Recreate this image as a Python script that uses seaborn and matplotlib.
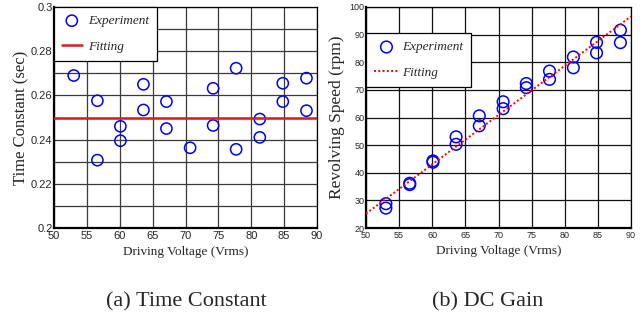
import matplotlib
matplotlib.use("Agg")
import matplotlib.pyplot as plt
from matplotlib import font_manager
from matplotlib.ticker import MultipleLocator, FixedFormatter, FixedLocator
import seaborn as sns

# ---- data ----
volt_a = [53.0, 56.6, 56.6, 60.1, 60.1, 63.6, 63.6, 67.1, 67.1, 70.7,
          74.2, 74.2, 77.7, 77.7, 81.3, 81.3, 84.8, 84.8, 88.4, 88.4]
tau = [0.269, 0.2576, 0.2307, 0.246, 0.2395, 0.265, 0.2534, 0.2572, 0.245, 0.2363,
       0.2632, 0.2464, 0.2723, 0.2356, 0.2493, 0.241, 0.2655, 0.2572, 0.2678, 0.2531]
fit_a_x = [50, 90]
fit_a_y = [0.25, 0.25]

volt_b = [53.0, 53.0, 56.6, 56.6, 60.1, 60.1, 63.6, 63.6, 67.1, 67.1, 70.7, 70.7,
          74.2, 74.2, 77.7, 77.7, 81.3, 81.3, 84.8, 84.8, 88.4, 88.4]
speed = [28.8, 27.2, 36.2, 35.7, 44.3, 43.8, 53.0, 50.3, 60.6, 57.0, 65.7, 63.2,
         72.3, 70.8, 76.8, 73.8, 81.9, 78.0, 87.2, 83.4, 91.6, 87.1]
fit_b_x = [50, 90]
fit_b_y = [25.2, 96.6]

yticks_a = [0.2, 0.22, 0.24, 0.26, 0.28, 0.3]
ytick_labels_a = ["0.2", "0.22", "0.24", "0.26", "0.28", "0.3"]
captions = ["(a) Time Constant", "(b) DC Gain"]

sns.set_style("white")
names = {f.name for f in font_manager.fontManager.ttflist}
serif = "Liberation Serif" if "Liberation Serif" in names else "DejaVu Serif"
narrow = "Liberation Sans Narrow" if "Liberation Sans Narrow" in names else "Liberation Sans"
plt.rcParams["font.family"] = [serif, "DejaVu Serif"]

fig = plt.figure(figsize=(6.43, 3.22), dpi=100)
ax1 = fig.add_axes([54/643, 1-228/322, 263/643, 221/322])
ax2 = fig.add_axes([366/643, 1-228/322, 265/643, 221/322])

# ---- left panel ----
sns.scatterplot(x=volt_a, y=tau, ax=ax1, marker="o", s=65,
                facecolor="none", edgecolor="blue", linewidth=1.1,
                label="Experiment", legend=False, zorder=3)
sns.lineplot(x=fit_a_x, y=fit_a_y, ax=ax1, color="#d42020", lw=1.8,
             label="Fitting", legend=False, zorder=4)
ax1.set_xlim(50, 90)
ax1.set_ylim(0.2, 0.3)
ax1.xaxis.set_major_locator(MultipleLocator(5))
ax1.yaxis.set_major_locator(FixedLocator(yticks_a))
ax1.yaxis.set_major_formatter(FixedFormatter(ytick_labels_a))
ax1.yaxis.set_minor_locator(MultipleLocator(0.01))
ax1.grid(True, which="both", color="#3a3a3a", lw=0.9)
ax1.set_axisbelow(True)
ax1.tick_params(axis="both", which="both", length=0, labelsize=8,
                labelfontfamily=narrow)
ax1.tick_params(axis="x", pad=2.5)
ax1.tick_params(axis="y", pad=1.0)
ax1.set_xlabel("Driving Voltage (Vrms)", fontsize=9.5, labelpad=3)
ax1.set_ylabel("Time Constant (sec)", fontsize=12, labelpad=1)
leg1 = ax1.legend(loc="upper left", bbox_to_anchor=(0, 1), borderaxespad=0,
                  fancybox=False, framealpha=1, edgecolor="black",
                  prop={"family": serif, "style": "italic", "size": 9.5},
                  handlelength=1.5, handletextpad=0.5, labelspacing=1.0,
                  borderpad=0.6)
leg1.get_frame().set_linewidth(0.9)

# ---- right panel ----
sns.scatterplot(x=volt_b, y=speed, ax=ax2, marker="o", s=70,
                facecolor="none", edgecolor="blue", linewidth=1.1,
                label="Experiment", legend=False, zorder=3)
sns.lineplot(x=fit_b_x, y=fit_b_y, ax=ax2, color="red", lw=1.4,
             linestyle=(0, (1, 1.2)), label="Fitting", legend=False, zorder=4)
ax2.set_xlim(50, 90)
ax2.set_ylim(20, 100)
ax2.xaxis.set_major_locator(MultipleLocator(5))
ax2.yaxis.set_major_locator(MultipleLocator(10))
ax2.grid(True, which="major", color="#111111", lw=0.9)
ax2.set_axisbelow(True)
ax2.tick_params(axis="both", which="both", length=0, labelsize=6.5,
                labelfontfamily=narrow)
ax2.tick_params(axis="x", pad=2.5)
ax2.tick_params(axis="y", pad=1.0)
ax2.set_xlabel("Driving Voltage (Vrms)", fontsize=9.5, labelpad=3)
ax2.set_ylabel("Revolving Speed (rpm)", fontsize=12.5, labelpad=3)
leg2 = ax2.legend(loc="upper left", bbox_to_anchor=(0, 0.881), borderaxespad=0,
                  fancybox=False, framealpha=1, edgecolor="black",
                  prop={"family": serif, "style": "italic", "size": 9.5},
                  handlelength=1.9, handletextpad=0.25, labelspacing=1.0,
                  borderpad=0.6)
leg2.get_frame().set_linewidth(0.9)

for ax in (ax1, ax2):
    for sp in ax.spines.values():
        sp.set_color("black")
        sp.set_linewidth(0.9)
    ax.spines["bottom"].set_linewidth(1.6)
    ax.spines["left"].set_linewidth(1.6)

fig.text(186/643, 1-302/322, captions[0], ha="center", va="center", fontsize=16)
fig.text(488/643, 1-302/322, captions[1], ha="center", va="center", fontsize=16)

fig.savefig("out.png", dpi=100, facecolor="white")
